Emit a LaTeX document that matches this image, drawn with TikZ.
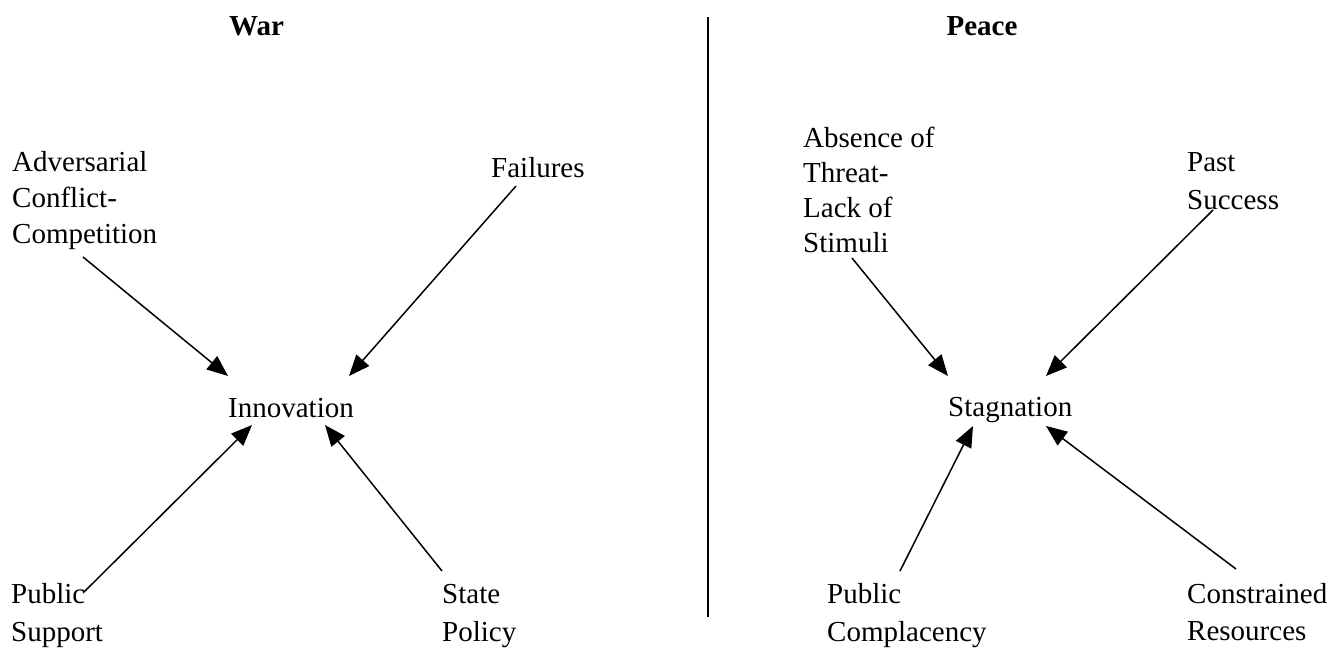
\documentclass[tikz,border=0pt]{standalone}
\usepackage{fontspec}
\setmainfont{Liberation Serif}
\usetikzlibrary{arrows.meta}
\newcommand\stacklines[2]{\vtop{\baselineskip=#1pt\lineskiplimit=-100pt\halign{##\hfil\cr#2\crcr}}}
\begin{document}
\begin{tikzpicture}[x=1pt,y=-1pt,
  txt/.style={inner sep=0pt, anchor=base west, font=\fontsize{29}{36}\selectfont},
  head/.style={inner sep=0pt, anchor=base, font=\bfseries\fontsize{29}{36}\selectfont},
  arr/.style={line width=1.5pt, -{Triangle[length=21pt,width=17pt]}},
  divider/.style={line width=1.5pt}]
\fill[white] (0,0) rectangle (1343,648);
\useasboundingbox (0,0) rectangle (1343,648);
% headers and divider
\node[head] (war) at (256.5,35) {War};
\node[head] (peace) at (982,35) {Peace};
\draw[divider] (708,17) -- (708,617);
% War side
\node[txt] (inn) at (228,417) {Innovation};
\node[txt] (adv) at (12,171) {\stacklines{36}{Adversarial\cr Conflict-\cr Competition}};
\node[txt] (fail) at (491,177) {Failures};
\node[txt] (pub) at (11,603) {\stacklines{38}{Public\cr Support}};
\node[txt] (state) at (442,603) {\stacklines{38}{State\cr Policy}};
% Peace side
\node[txt] (stag) at (948,416) {Stagnation};
\node[txt] (abs) at (803,147) {\stacklines{35}{Absence of\cr Threat-\cr Lack of\cr Stimuli}};
\node[txt] (past) at (1187,171) {\stacklines{38}{Past\cr Success}};
\node[txt] (pubc) at (827,603) {\stacklines{38}{Public\cr Complacency}};
\node[txt] (cons) at (1187,603) {\stacklines{37}{Constrained\cr Resources}};
% connectors, War
\draw[arr] ([shift={(71,86)}]adv.base west) -- ([shift={(0,-41)}]inn.base west);
\draw[arr] ([shift={(25,9)}]fail.base west) -- ([shift={(121,-41)}]inn.base west);
\draw[arr] ([shift={(73,-11)}]pub.base west) -- ([shift={(24,8)}]inn.base west);
\draw[arr] ([shift={(0,-32)}]state.base west) -- ([shift={(97,8)}]inn.base west);
% connectors, Peace
\draw[arr] ([shift={(49,111)}]abs.base west) -- ([shift={(0,-40)}]stag.base west);
\draw[arr] ([shift={(26,39)}]past.base west) -- ([shift={(98,-40)}]stag.base west);
\draw[arr] ([shift={(73,-32)}]pubc.base west) -- ([shift={(25,10)}]stag.base west);
\draw[arr] ([shift={(49,-34)}]cons.base west) -- ([shift={(98,10)}]stag.base west);
\end{tikzpicture}
\end{document}
